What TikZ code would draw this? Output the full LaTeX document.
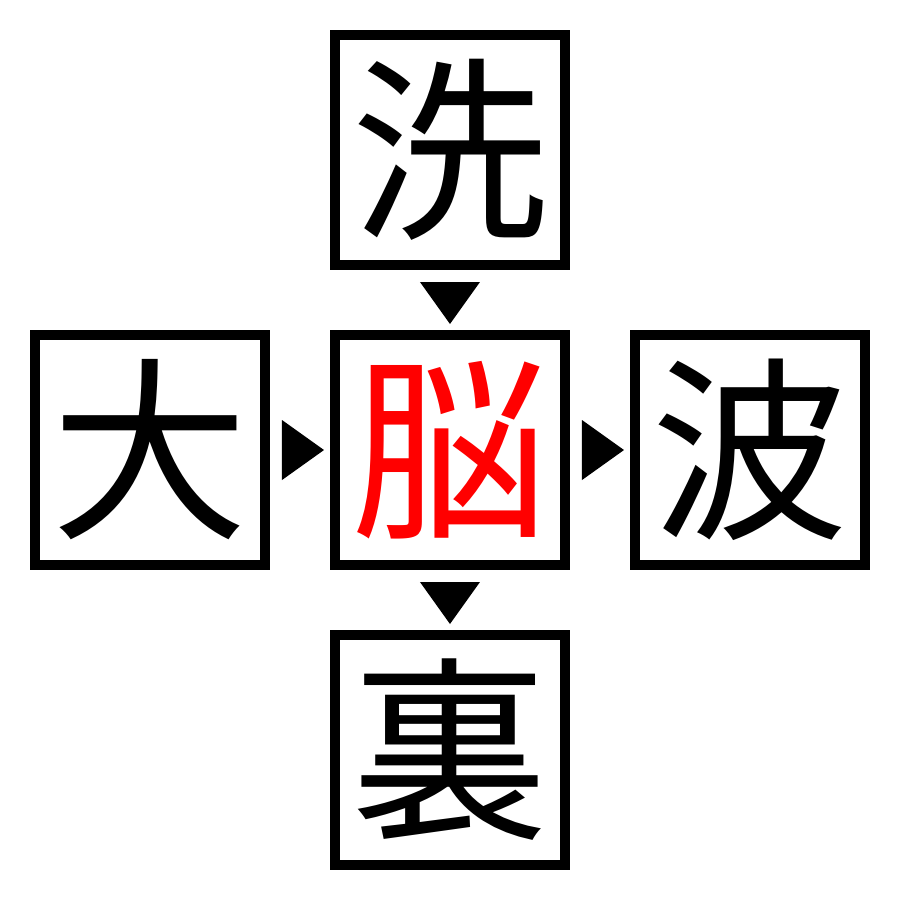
\documentclass[tikz,border=0pt]{standalone}
\usepackage{fontspec}
\newfontfamily\cjk{Noto Sans CJK JP}
\usetikzlibrary{calc}
\tikzset{
  kanji/.style={draw=black, line width=0.1cm, minimum size=2.3cm, inner sep=0pt,
    font=\cjk\fontsize{56}{56}\selectfont},
  pointer/.style={fill=black}
}
\begin{document}
\begin{tikzpicture}
\useasboundingbox (-4.5cm,-4.5cm) rectangle (4.5cm,4.5cm);
\node[kanji] (mid) at (0 cm,0 cm) {\textcolor{red}{脳}};
\node[kanji] (top) at (0 cm,3 cm) {洗};
\node[kanji] (bottom) at (0 cm,-3 cm) {裏};
\node[kanji] (left) at (-3 cm,0 cm) {大};
\node[kanji] (right) at (3 cm,0 cm) {波};
\coordinate (t1) at ($(top.south)!0.5!(mid.north)+(0,-0.03)$);
\coordinate (t2) at ($(mid.south)!0.5!(bottom.north)+(0,-0.03)$);
\coordinate (t3) at ($(left.east)!0.5!(mid.west)+(0.03,0)$);
\coordinate (t4) at ($(mid.east)!0.5!(right.west)+(0.03,0)$);
\fill[pointer] (t1) +(-0.3,0.21) -- +(0.3,0.21) -- +(0,-0.21) -- cycle;
\fill[pointer] (t2) +(-0.3,0.21) -- +(0.3,0.21) -- +(0,-0.21) -- cycle;
\fill[pointer] (t3) +(-0.21,0.3) -- +(-0.21,-0.3) -- +(0.21,0) -- cycle;
\fill[pointer] (t4) +(-0.21,0.3) -- +(-0.21,-0.3) -- +(0.21,0) -- cycle;
\end{tikzpicture}
\end{document}
